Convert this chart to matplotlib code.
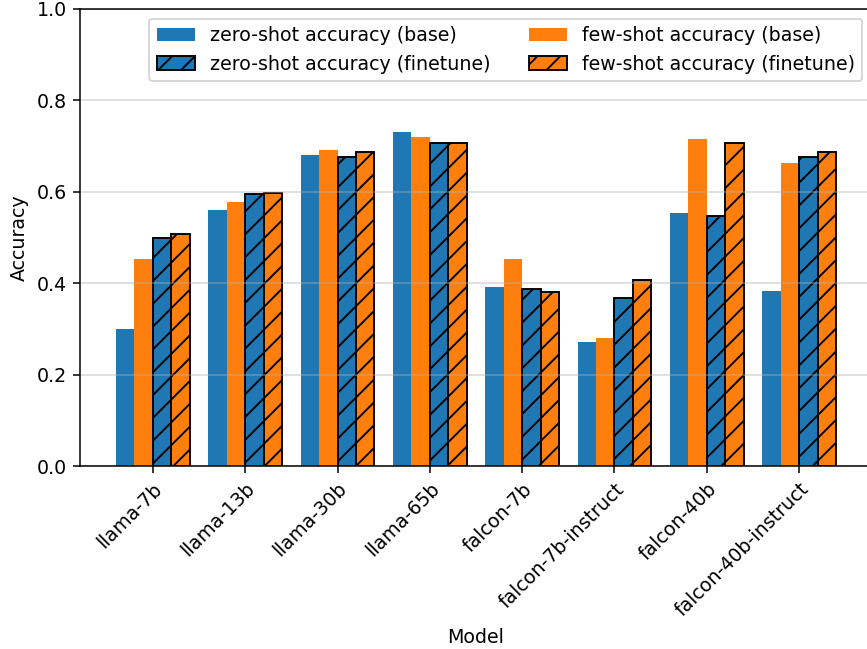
import numpy as np
import matplotlib
matplotlib.use("Agg")
import matplotlib.pyplot as plt

models = ["llama-7b", "llama-13b", "llama-30b", "llama-65b",
          "falcon-7b", "falcon-7b-instruct", "falcon-40b", "falcon-40b-instruct"]
zero_base = [0.299, 0.561, 0.680, 0.730, 0.391, 0.272, 0.553, 0.384]
few_base = [0.452, 0.577, 0.691, 0.719, 0.452, 0.281, 0.715, 0.662]
zero_ft = [0.499, 0.596, 0.676, 0.707, 0.388, 0.367, 0.547, 0.677]
few_ft = [0.507, 0.598, 0.686, 0.707, 0.380, 0.408, 0.707, 0.687]

dpi = 137
fig = plt.figure(figsize=(867 / dpi, 649 / dpi), dpi=dpi)
ax = fig.add_axes([80 / 867, 1 - 466 / 649, (872 - 80) / 867, (466 - 9) / 649])

x = np.arange(len(models))
w = 0.2
ax.bar(x - 1.5 * w, zero_base, w, color="#1f77b4", label="zero-shot accuracy (base)")
ax.bar(x - 0.5 * w, few_base, w, color="#ff7f0e", label="few-shot accuracy (base)")
ax.bar(x + 0.5 * w, zero_ft, w, color="#1f77b4", edgecolor="black", hatch="//",
       label="zero-shot accuracy (finetune)")
ax.bar(x + 1.5 * w, few_ft, w, color="#ff7f0e", edgecolor="black", hatch="//",
       label="few-shot accuracy (finetune)")

ax.set_ylim(0, 1.0)
ax.set_xticks(x)
ax.set_xticklabels(models, rotation=45, ha="right", rotation_mode="anchor")
ax.set_xlabel("Model")
ax.set_ylabel("Accuracy")
ax.grid(axis="y", alpha=0.5)

handles, labels = ax.get_legend_handles_labels()
order = [0, 2, 1, 3]
ax.legend([handles[i] for i in order], [labels[i] for i in order],
          loc="upper right", ncol=2)

fig.savefig("out.png", dpi=dpi)
